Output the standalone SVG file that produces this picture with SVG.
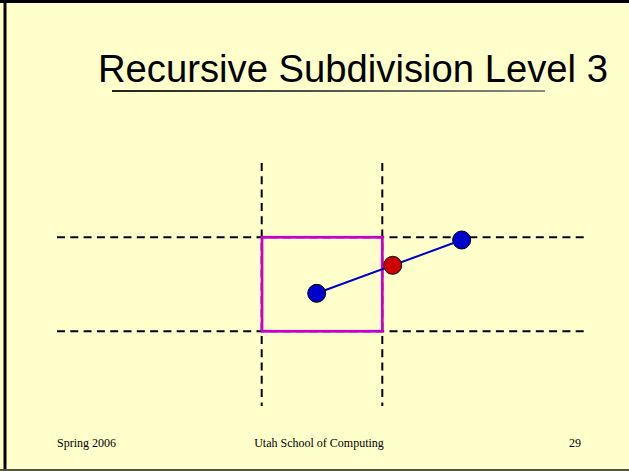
<svg xmlns="http://www.w3.org/2000/svg" width="629" height="471" viewBox="0 0 629 471">
<style>
.grid{stroke:#000;stroke-width:2;stroke-dasharray:8 5.3;fill:none}
.foot{font-family:"Liberation Serif","Times New Roman",serif;font-size:12px;fill:#000}
.pt{stroke:#000;stroke-width:1}
</style>
<defs>
<linearGradient id="ul" gradientUnits="userSpaceOnUse" x1="112" y1="0" x2="545" y2="0">
<stop offset="0" stop-color="#222"/>
<stop offset="1" stop-color="#888"/>
</linearGradient>
</defs>
<rect x="0" y="0" width="629" height="471" fill="#FFFFCC"/>
<line x1="0" y1="1.5" x2="629" y2="1.5" stroke="#000" stroke-width="3"/>
<line x1="5" y1="0" x2="5" y2="471" stroke="#000" stroke-width="3"/>
<line x1="0" y1="470" x2="629" y2="470" stroke="#55553a" stroke-width="2"/>
<g id="title">
<text x="98" y="81.5" font-family="'Liberation Sans',Arial,sans-serif" font-size="38" textLength="510" lengthAdjust="spacingAndGlyphs" fill="#000">Recursive Subdivision Level 3</text>
<line x1="112" y1="91" x2="545" y2="91" stroke="url(#ul)" stroke-width="2"/>
</g>
<g id="grid">
<line class="grid" x1="57" y1="237.3" x2="585" y2="237.3"/>
<line class="grid" x1="57" y1="331.3" x2="585" y2="331.3"/>
<line class="grid" x1="261.7" y1="163" x2="261.7" y2="406"/>
<line class="grid" x1="382.3" y1="163" x2="382.3" y2="406"/>
</g>
<g id="cell">
<rect x="262" y="237.3" width="120.3" height="94" fill="none" stroke="#CC00CC" stroke-width="2.8"/>
</g>
<g id="connectors">
<line x1="316.7" y1="293.3" x2="461.7" y2="240" stroke="#0000CC" stroke-width="2"/>
</g>
<g id="p0"><circle class="pt" cx="316.7" cy="293.3" r="9" fill="#0000CC"/></g>
<g id="p1"><circle class="pt" cx="461.7" cy="240" r="9" fill="#0000CC"/></g>
<g id="pmid"><circle class="pt" cx="392.7" cy="265.3" r="9" fill="#CC0000"/></g>
<g id="footer">
<text class="foot" x="57" y="446.5">Spring 2006</text>
<text class="foot" x="319" y="446.5" text-anchor="middle">Utah School of Computing</text>
<text class="foot" x="575" y="446.5" text-anchor="middle">29</text>
</g>
</svg>
